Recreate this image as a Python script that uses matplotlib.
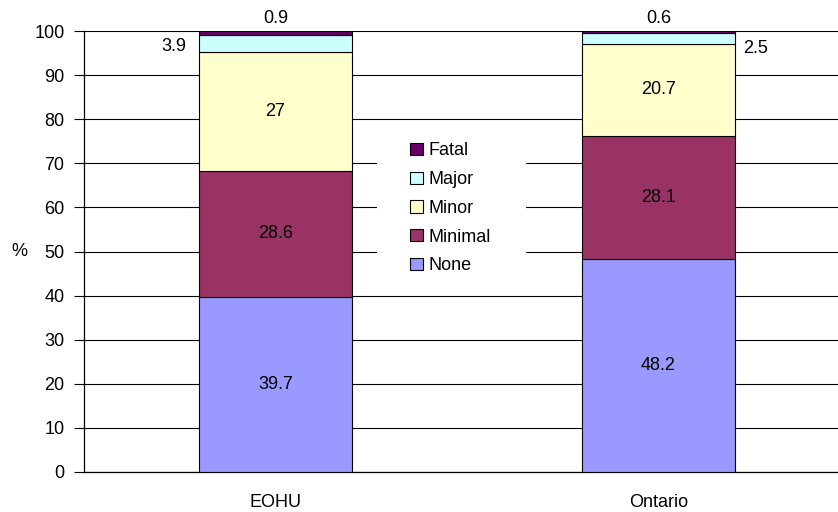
import matplotlib
matplotlib.use("Agg")
import matplotlib.pyplot as plt
from matplotlib.patches import Rectangle
import numpy as np

plt.rcParams['font.family'] = ['Liberation Sans', 'DejaVu Sans']

regions = ["EOHU", "Ontario"]
severity = ["None", "Minimal", "Minor", "Major", "Fatal"]
none_vals = [39.7, 48.2]
minimal_vals = [28.6, 28.1]
minor_vals = [27, 20.7]
major_vals = [3.9, 2.5]
fatal_vals = [0.9, 0.6]
y_ticks = list(range(0, 101, 10))

series = [none_vals, minimal_vals, minor_vals, major_vals, fatal_vals]
colors = ["#9999FF", "#993366", "#FFFFCC", "#CCFFFF", "#660066"]
FS = 13

fig = plt.figure(figsize=(8.38, 5.12), dpi=100)
ax = fig.add_axes([84 / 838, 40 / 512, 766 / 838, 441 / 512])
ax.set_axisbelow(True)

x = np.arange(len(regions))
width = 0.4
bottom = np.zeros(len(regions))
handles = []
for name, vals, col in zip(severity, series, colors):
    vals = np.array(vals, dtype=float)
    b = ax.bar(x, vals, width, bottom=bottom, color=col, edgecolor="black",
               linewidth=0.8, label=name, zorder=3)
    handles.append(b)
    for i, v in enumerate(vals):
        txt = f"{v:g}"
        if name in ("None", "Minimal", "Minor"):
            ax.text(x[i], bottom[i] + v / 2, txt, ha="center", va="center",
                    fontsize=FS, zorder=4)
        elif name == "Major":
            y = bottom[i] + v / 2
            if i == 0:
                ax.text(x[i] - width / 2 - 0.033, y - 0.8, txt, ha="right",
                        va="center", fontsize=FS, zorder=4)
            else:
                ax.text(x[i] + width / 2 + 0.02, y - 2.3, txt, ha="left",
                        va="center", fontsize=FS, zorder=4)
        else:
            ax.text(x[i], 100 + 2.9, txt, ha="center", va="center",
                    fontsize=FS, zorder=4, clip_on=False)
    bottom += vals

ax.set_xlim(-0.5, 1.5)
ax.set_ylim(0, 100)
ax.set_yticks(y_ticks)
ax.set_xticks(x)
ax.set_xticklabels(regions, fontsize=FS)
ax.tick_params(axis="y", labelsize=FS, length=7, width=0.8, direction="out", pad=7)
ax.tick_params(axis="x", length=0, pad=16)
ax.grid(axis="y", color="black", linewidth=0.8)
for s in ("top", "right"):
    ax.spines[s].set_visible(False)
ax.spines["left"].set_linewidth(0.9)
ax.spines["bottom"].set_linewidth(0.9)
ax.set_ylabel("%", rotation=0, fontsize=FS, va="center", ha="center")
ax.yaxis.set_label_coords(-65 / 766, 0.5)

# white legend area masking the gridlines
ax.add_patch(Rectangle((377 / 838, (512 - 285) / 512), 149 / 838, 160 / 512,
                       transform=fig.transFigure, facecolor="white",
                       edgecolor="none", zorder=2, clip_on=False))

leg = ax.legend(handles[::-1], severity[::-1], loc="upper left",
                bbox_to_anchor=(396 / 838, 1 - 128 / 512), bbox_transform=fig.transFigure,
                frameon=False, fontsize=FS, labelspacing=0.65, handlelength=0.67,
                handleheight=0.67, handletextpad=0.35, borderpad=0.3)
leg.set_zorder(5)

fig.savefig("out.png", dpi=100)
